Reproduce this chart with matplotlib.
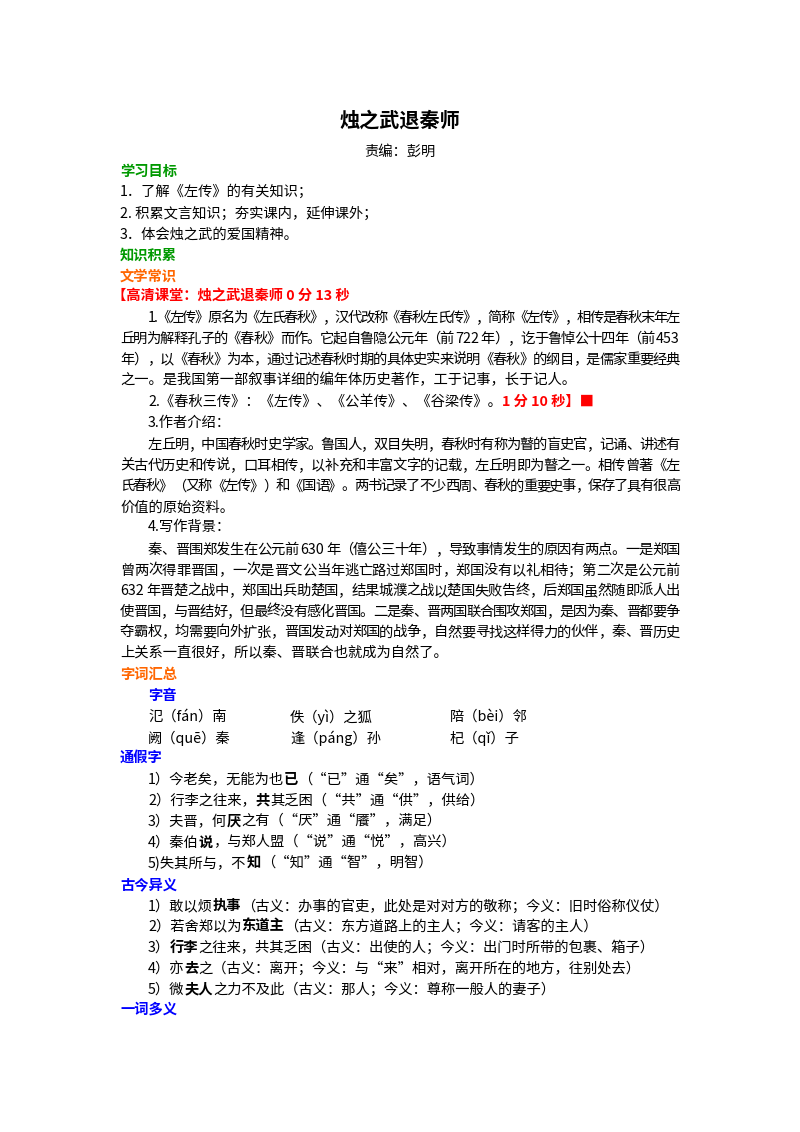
import matplotlib
matplotlib.use("Agg")
import matplotlib.pyplot as plt

plt.rcParams['font.family'] = ['Noto Sans CJK SC', 'DejaVu Sans']

W, H = 800, 1132
GREEN = '#009900'
ORANGE = '#FF6600'
RED = '#FF0000'
BLUE = '#0000FF'
BLACK = '#000000'

title = '烛之武退秦师'
editor = '责编：彭明'

goals = ['1．了解《左传》的有关知识；',
         '2. 积累文言知识；夯实课内，延伸课外；',
         '3．体会烛之武的爱国精神。']

para1 = ['1.《左传》原名为《左氏春秋》，汉代改称《春秋左氏传》，简称《左传》，相传是春秋末年左',
         '丘明为解释孔子的《春秋》而作。它起自鲁隐公元年（前 722 年），讫于鲁悼公十四年（前 453',
         '年），以《春秋》为本，通过记述春秋时期的具体史实来说明《春秋》的纲目，是儒家重要经典',
         '之一。是我国第一部叙事详细的编年体历史著作，工于记事，长于记人。']
para3 = ['左丘明，中国春秋时史学家。鲁国人，双目失明，春秋时有称为瞽的盲史官，记诵、讲述有',
         '关古代历史和传说，口耳相传，以补充和丰富文字的记载，左丘明即为瞽之一。相传曾著《左',
         '氏春秋》（又称《左传》）和《国语》。两书记录了不少西周、春秋的重要史事，保存了具有很高',
         '价值的原始资料。']
para4 = ['秦、晋围郑发生在公元前 630 年（僖公三十年），导致事情发生的原因有两点。一是郑国',
         '曾两次得罪晋国，一次是晋文公当年逃亡路过郑国时，郑国没有以礼相待；第二次是公元前',
         '632 年晋楚之战中，郑国出兵助楚国，结果城濮之战以楚国失败告终，后郑国虽然随即派人出',
         '使晋国，与晋结好，但最终没有感化晋国。二是秦、晋两国联合围攻郑国，是因为秦、晋都要争',
         '夺霸权，均需要向外扩张，晋国发动对郑国的战争，自然要寻找这样得力的伙伴，秦、晋历史',
         '上关系一直很好，所以秦、晋联合也就成为自然了。']

ziyin = [['氾（fán）南', '佚（yì）之狐', '陪（bèi）邻'],
         ['阙（quē）秦', '逢（páng）孙', '杞（qǐ）子']]

# segments: (text, bold)
tongjia = [[('1）今老矣，无能为也', 0), ('已', 1), ('（“已”通“矣”，语气词）', 0)],
           [('2）行李之往来，', 0), ('共', 1), ('其乏困（“共”通“供”，供给）', 0)],
           [('3）夫晋，何', 0), ('厌', 1), ('之有（“厌”通“餍”，满足）', 0)],
           [('4）秦伯', 0), ('说', 1), ('，与郑人盟（“说”通“悦”，高兴）', 0)],
           [('5)失其所与，不', 0), ('知', 1), ('（“知”通“智”，明智）', 0)]]
gujin = [[('1）敢以烦', 0), ('执事', 1), ('（古义：办事的官吏，此处是对对方的敬称；今义：旧时俗称仪仗）', 0)],
         [('2）若舍郑以为', 0), ('东道主', 1), ('（古义：东方道路上的主人；今义：请客的主人）', 0)],
         [('3）', 0), ('行李', 1), ('之往来，共其乏困（古义：出使的人；今义：出门时所带的包裹、箱子）', 0)],
         [('4）亦', 0), ('去', 1), ('之（古义：离开；今义：与“来”相对，离开所在的地方，往别处去）', 0)],
         [('5）微', 0), ('夫人', 1), ('之力不及此（古义：那人；今义：尊称一般人的妻子）', 0)]]

fig = plt.figure(figsize=(W / 100, H / 100), dpi=100)
fig.patch.set_facecolor('white')
r = fig.canvas.get_renderer()
FS = 10.3
RIGHT = 680


def put(x, y, s, color=BLACK, bold=False, size=FS, ha='left'):
    return fig.text(x / W, 1 - y / H, s, color=color, fontsize=size, ha=ha, va='center',
                    fontweight='bold' if bold else 'normal')


def width(s, bold=False):
    t = put(0, -100, s, bold=bold)
    w = t.get_window_extent(r).width
    t.remove()
    return w


def put_segs(x, y, segs, color=BLACK):
    for s, b in segs:
        t = put(x, y, s, color=color, bold=bool(b))
        x += t.get_window_extent(r).width
    return x


def put_just(x, y, s):
    # justify a line between x and RIGHT, keeping runs of digits together
    toks = []
    for ch in s:
        if toks and ch.isdigit() and toks[-1][-1].isdigit():
            toks[-1] += ch
        else:
            toks.append(ch)
    ws = [width(tk) for tk in toks]
    gap = (RIGHT - x - sum(ws)) / (len(toks) - 1)
    for tk, w in zip(toks, ws):
        if tk != ' ':
            put(x, y, tk)
        x += w + gap


def paragraph(lines, y0, step):
    for i, s in enumerate(lines):
        x = 148 if i == 0 else 120
        if i < len(lines) - 1:
            put_just(x, y0 + step * i, s)
        else:
            put(x, y0 + step * i, s)


put(400, 120, title, bold=True, size=14.5, ha='center')
put(400, 152, editor, ha='center')
put(120, 172, '学习目标', GREEN, True)
for i, s in enumerate(goals):
    put(120, 192 + 21.5 * i, s)
put(120, 256, '知识积累', GREEN, True)
put(120, 277, '文学常识', ORANGE, True)
put(112, 297, '【高清课堂：烛之武退秦师 0 分 13 秒', RED, True)
paragraph(para1, 318, 20.8)
x_end = put_segs(148, 402, [('2.《春秋三传》：《左传》、《公羊传》、《谷梁传》。', 0)])
put(x_end, 402, '1 分 10 秒】■', RED, True)
put(148, 423, '3.作者介绍：')
paragraph(para3, 445, 20.7)
put(148, 527, '4.写作背景：')
paragraph(para4, 550, 20.6)
put(120, 675, '字词汇总', ORANGE, True)
put(148, 696, '字音', BLUE, True)
cols = [148, 290, 450]
for ri, row in enumerate(ziyin):
    for ci, s in enumerate(row):
        put(cols[ci], 717 + 21 * ri, s)
put(120, 758, '通假字', BLUE, True)
for i, segs in enumerate(tongjia):
    put_segs(148, 780 + 20.8 * i, segs)
put(120, 885, '古今异义', BLUE, True)
for i, segs in enumerate(gujin):
    put_segs(148, 906 + 20.8 * i, segs)
put(120, 1010, '一词多义', BLUE, True)

fig.savefig('out.png', dpi=100, facecolor='white')
